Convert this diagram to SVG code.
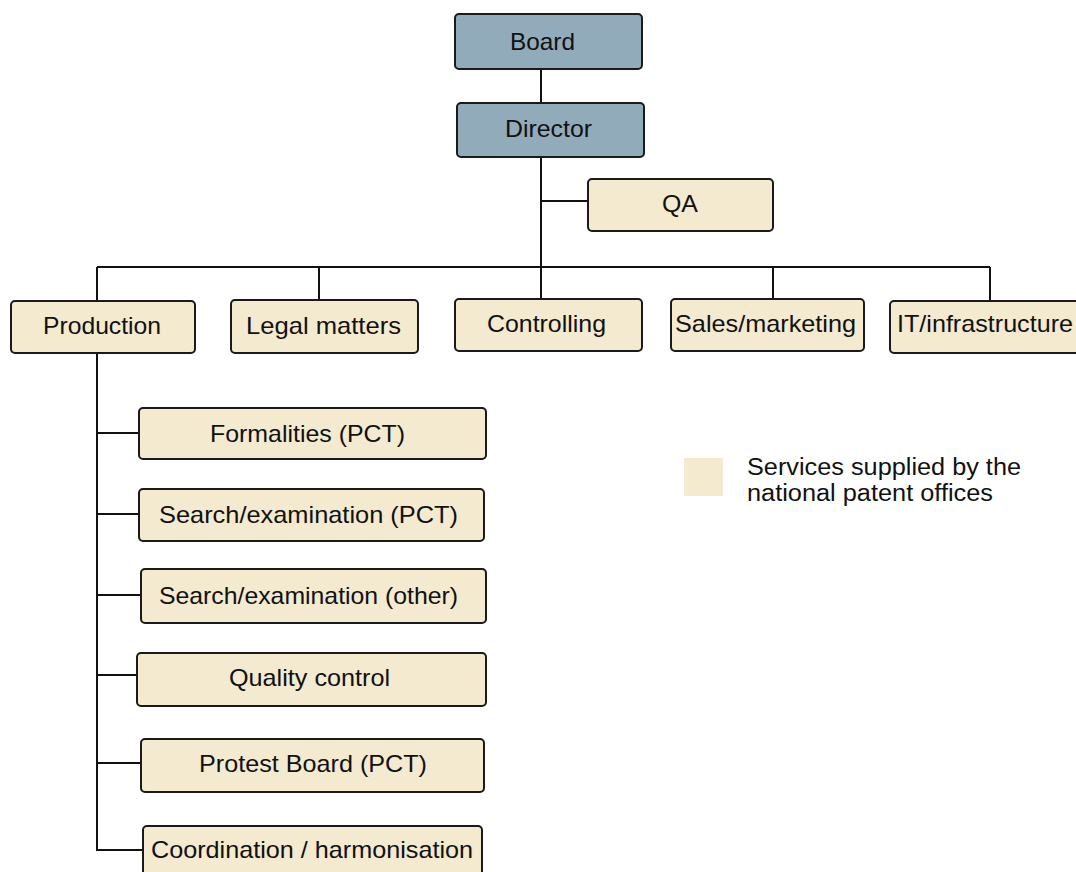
<svg xmlns="http://www.w3.org/2000/svg" width="1076" height="872" viewBox="0 0 1076 872">
<style>
.box{fill:#F3EACF;stroke:#1a1a1a;stroke-width:2}
.top{fill:#91ABBB;stroke:#1a1a1a;stroke-width:2}
.t{font-family:"Liberation Sans",Arial,sans-serif;font-size:24px;fill:#111}
.lg{font-family:"Liberation Sans",Arial,sans-serif;font-size:23px;fill:#111}
.c{fill:none;stroke:#111;stroke-width:2}
</style>
<rect width="1076" height="872" fill="#fff"/>
<g id="connectors">
<path class="c" d="M541,69V103M541,157V267M541,201H588M97,267H990M97,267V301M319,267V300M541,267V299M773,267V299M990,267V301"/>
<path class="c" d="M97,353V850H143M97,433H139M97,514H139M97,595H141M97,675H137M97,763H141"/>
</g>
<g id="board"><rect class="top" x="455" y="14" width="187" height="55" rx="4"/><text class="t" x="510" y="50" textLength="65" lengthAdjust="spacingAndGlyphs">Board</text></g>
<g id="director"><rect class="top" x="457" y="103" width="187" height="54" rx="4"/><text class="t" x="505" y="137" textLength="87" lengthAdjust="spacingAndGlyphs">Director</text></g>
<g id="qa"><rect class="box" x="588" y="179" width="185" height="52" rx="4"/><text class="t" x="662" y="212" textLength="36" lengthAdjust="spacingAndGlyphs">QA</text></g>
<g id="production"><rect class="box" x="11" y="301" width="184" height="52" rx="4"/><text class="t" x="43" y="334" textLength="118" lengthAdjust="spacingAndGlyphs">Production</text></g>
<g id="legal"><rect class="box" x="231" y="300" width="187" height="53" rx="4"/><text class="t" x="246" y="334" textLength="155" lengthAdjust="spacingAndGlyphs">Legal matters</text></g>
<g id="controlling"><rect class="box" x="455" y="299" width="187" height="52" rx="4"/><text class="t" x="487" y="332" textLength="119" lengthAdjust="spacingAndGlyphs">Controlling</text></g>
<g id="sales"><rect class="box" x="671" y="299" width="193" height="52" rx="4"/><text class="t" x="675" y="332" textLength="181" lengthAdjust="spacingAndGlyphs">Sales/marketing</text></g>
<g id="it"><rect class="box" x="890" y="301" width="195" height="52" rx="4"/><text class="t" x="897" y="332" textLength="176" lengthAdjust="spacingAndGlyphs">IT/infrastructure</text></g>
<g id="formalities"><rect class="box" x="139" y="408" width="347" height="51" rx="4"/><text class="t" x="210" y="442" textLength="195" lengthAdjust="spacingAndGlyphs">Formalities (PCT)</text></g>
<g id="search-pct"><rect class="box" x="139" y="489" width="345" height="52" rx="4"/><text class="t" x="159" y="523" textLength="299" lengthAdjust="spacingAndGlyphs">Search/examination (PCT)</text></g>
<g id="search-other"><rect class="box" x="141" y="569" width="345" height="54" rx="4"/><text class="t" x="159" y="604" textLength="299" lengthAdjust="spacingAndGlyphs">Search/examination (other)</text></g>
<g id="quality"><rect class="box" x="137" y="653" width="349" height="53" rx="4"/><text class="t" x="229" y="686" textLength="161" lengthAdjust="spacingAndGlyphs">Quality control</text></g>
<g id="protest"><rect class="box" x="141" y="739" width="343" height="53" rx="4"/><text class="t" x="199" y="772" textLength="228" lengthAdjust="spacingAndGlyphs">Protest Board (PCT)</text></g>
<g id="coordination"><rect class="box" x="143" y="826" width="339" height="60" rx="4"/><text class="t" x="151" y="858" textLength="322" lengthAdjust="spacingAndGlyphs">Coordination / harmonisation</text></g>
<g id="legend">
<rect x="684" y="458" width="39" height="38" fill="#F3EACF"/>
<text class="lg" x="747" y="475" textLength="274" lengthAdjust="spacingAndGlyphs">Services supplied by the</text>
<text class="lg" x="747" y="501" textLength="246" lengthAdjust="spacingAndGlyphs">national patent offices</text>
</g>
</svg>
